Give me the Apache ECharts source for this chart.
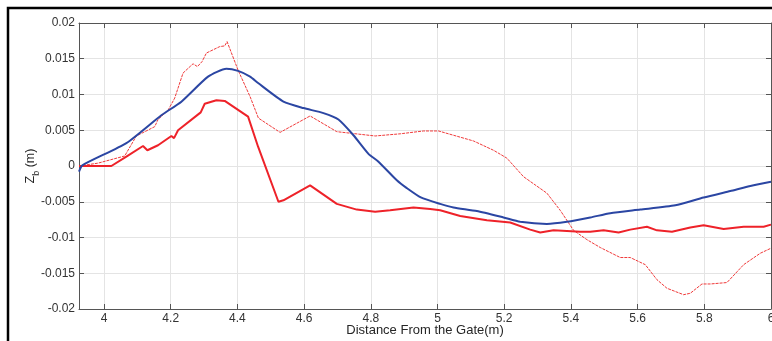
<!DOCTYPE html>
<html>
<head>
<meta charset="utf-8">
<script src="https://cdn.jsdelivr.net/npm/echarts@6/dist/echarts.min.js"></script>
<style>
  html, body { margin: 0; padding: 0; background: #fff; }
  #chart { width: 772px; height: 341px; }
</style>
</head>
<body>
<div id="chart"></div>
<script>
// distance from gate (m) and bed level Zb (m)
const blueX = [3.925, 3.935, 4.067, 4.172, 4.232, 4.312, 4.367, 4.402, 4.438, 4.462,
  4.538, 4.598, 4.658, 4.703, 4.748, 4.793, 4.823, 4.878, 4.908, 4.95,
  5.008, 5.048, 5.118, 5.198, 5.248, 5.328, 5.388, 5.458, 5.518, 5.608,
  5.713, 5.798, 5.878, 5.948, 6.0];
const blueY = [-0.0008, 0.0001, 0.0032, 0.0071, 0.009, 0.0125, 0.0136, 0.0133, 0.0125, 0.0116,
  0.009, 0.0081, 0.0074, 0.0065, 0.0043, 0.0017, 0.0006, -0.002, -0.0031, -0.0044,
  -0.0053, -0.0058, -0.0063, -0.0072, -0.0078, -0.0081, -0.0078, -0.0072, -0.0066, -0.0061,
  -0.0055, -0.0044, -0.0035, -0.0027, -0.0022];

const redX = [3.925, 4.022, 4.067, 4.117, 4.13, 4.162, 4.202, 4.21, 4.222, 4.29,
  4.302, 4.337, 4.362, 4.432, 4.462, 4.523, 4.538, 4.618, 4.698, 4.758,
  4.813, 4.858, 4.928, 4.978, 5.008, 5.068, 5.148, 5.218, 5.278, 5.308,
  5.348, 5.428, 5.458, 5.498, 5.543, 5.578, 5.628, 5.658, 5.703, 5.758,
  5.798, 5.858, 5.918, 5.978, 6.0];
const redY = [0, 0, 0.0013, 0.0028, 0.0022, 0.0029, 0.0042, 0.0039, 0.005, 0.0075,
  0.0087, 0.0092, 0.0091, 0.0069, 0.0027, -0.005, -0.0048, -0.0027, -0.0053, -0.0061,
  -0.0064, -0.0062, -0.0058, -0.006, -0.0062, -0.007, -0.0076, -0.0079, -0.0089, -0.0093,
  -0.009, -0.0092, -0.0092, -0.009, -0.0093, -0.0089, -0.0085, -0.009, -0.0092, -0.0086,
  -0.0083, -0.0088, -0.0085, -0.0085, -0.0082];

const dashX = [3.925, 3.982, 4.062, 4.097, 4.152, 4.162, 4.192, 4.212, 4.237, 4.267,
  4.28, 4.294, 4.307, 4.347, 4.362, 4.369, 4.402, 4.438, 4.463, 4.528,
  4.618, 4.698, 4.813, 4.888, 4.958, 5.003, 5.048, 5.108, 5.168, 5.208,
  5.258, 5.328, 5.368, 5.408, 5.448, 5.488, 5.548, 5.578, 5.623, 5.658,
  5.688, 5.738, 5.758, 5.793, 5.818, 5.868, 5.918, 5.968, 6.0];
const dashY = [0, 0.0004, 0.0014, 0.0042, 0.0055, 0.0065, 0.0078, 0.0095, 0.013, 0.0143,
  0.0139, 0.0146, 0.0158, 0.0167, 0.0168, 0.0174, 0.0134, 0.0097, 0.0067, 0.0047,
  0.007, 0.0048, 0.0042, 0.0045, 0.0049, 0.0049, 0.0043, 0.0035, 0.0022, 0.0011,
  -0.0015, -0.0038, -0.0062, -0.009, -0.0103, -0.0114, -0.0128, -0.0128, -0.0138, -0.0159,
  -0.0171, -0.018, -0.0178, -0.0165, -0.0165, -0.0163, -0.0138, -0.0122, -0.0115];

const xMin = 3.925, xMax = 6;
const yMin = -0.02, yMax = 0.02, yStep = 0.005;

const pairs = (xs, ys) => xs.map((x, i) => [x, ys[i]]);

const chart = echarts.init(document.getElementById('chart'));
const font = 'Liberation Sans';
const axisCol = '#555';
const txtCol = '#262626';

const option = {
  animation: false,
  backgroundColor: '#fff',
  textStyle: {fontFamily: font},
  graphic: [{
    type: 'rect',
    shape: {x: 8, y: 8, width: 820, height: 400},
    style: {fill: 'none', stroke: '#000', lineWidth: 2.5},
    z: 0
  }],
  grid: {left: 79, right: 1, top: 23, bottom: 32, outerBoundsMode: 'none', containLabel: false},
  xAxis: [{
    type: 'value',
    min: xMin, max: xMax,
    splitNumber: 10,
    name: 'Distance From the Gate(m)',
    nameLocation: 'middle',
    nameGap: 15,
    nameMoveOverlap: false,
    nameTextStyle: {fontSize: 13, color: txtCol, fontFamily: font},
    axisLine: {onZero: false, lineStyle: {color: axisCol, width: 1}},
    axisTick: {inside: true, length: 5, lineStyle: {color: axisCol}},
    axisLabel: {showMinLabel: false, fontSize: 12, color: '#333', margin: 4, fontFamily: font},
    splitLine: {show: true, lineStyle: {color: '#e4e4e4', width: 1}}
  }, {
    type: 'value',
    position: 'top',
    min: xMin, max: xMax,
    splitNumber: 10,
    axisLine: {onZero: false, lineStyle: {color: axisCol, width: 1}},
    axisTick: {inside: true, length: 5, lineStyle: {color: axisCol}},
    axisLabel: {show: false},
    splitLine: {show: false}
  }],
  yAxis: [{
    type: 'value',
    min: yMin, max: yMax, interval: yStep,
    name: '{z|Z}{b|b}{z| (m)}',
    nameLocation: 'middle',
    nameGap: 38,
    nameMoveOverlap: false,
    nameRotate: 90,
    nameTextStyle: {
      color: txtCol,
      rich: {
        z: {fontSize: 12.5, color: txtCol, fontFamily: font, lineHeight: 20, verticalAlign: 'middle'},
        b: {fontSize: 9, color: txtCol, fontFamily: font, lineHeight: 9, verticalAlign: 'bottom'}
      }
    },
    axisLine: {onZero: false, lineStyle: {color: axisCol, width: 1}},
    axisTick: {inside: true, length: 5, lineStyle: {color: axisCol}},
    axisLabel: {fontSize: 12, color: '#333', margin: 4, fontFamily: font},
    splitLine: {show: true, lineStyle: {color: '#e4e4e4', width: 1}}
  }, {
    type: 'value',
    position: 'right',
    min: yMin, max: yMax, interval: yStep,
    axisLine: {onZero: false, lineStyle: {color: axisCol, width: 1}},
    axisTick: {inside: true, length: 5, lineStyle: {color: axisCol}},
    axisLabel: {show: false},
    splitLine: {show: false}
  }],
  series: [{
    type: 'line',
    data: pairs(dashX, dashY),
    showSymbol: false,
    lineStyle: {color: '#f03a3a', width: 1, type: [3, 1]},
    z: 3
  }, {
    type: 'line',
    data: pairs(redX, redY),
    showSymbol: false,
    lineStyle: {color: '#ee2229', width: 2},
    z: 4
  }, {
    type: 'line',
    data: pairs(blueX, blueY),
    showSymbol: false,
    smooth: 0.2,
    lineStyle: {color: '#2b46a3', width: 2},
    z: 5
  }]
};

chart.setOption(option);
</script>
</body>
</html>
